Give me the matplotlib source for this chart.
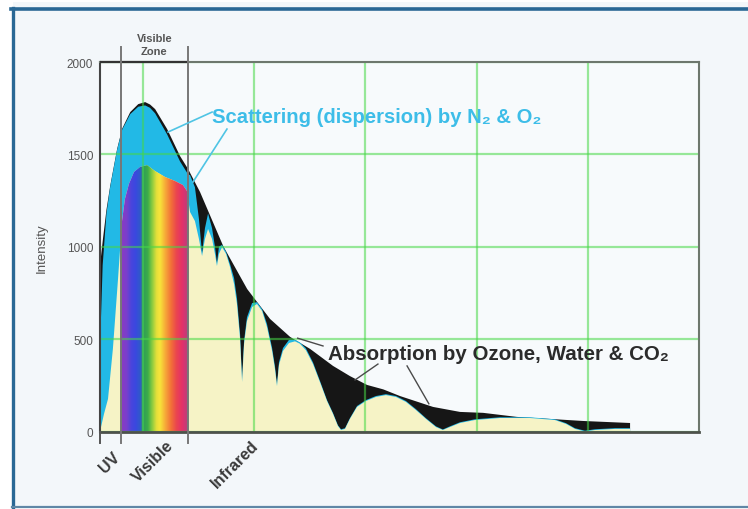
import numpy as np
import matplotlib
matplotlib.use("Agg")
import matplotlib.pyplot as plt
from matplotlib.colors import LinearSegmentedColormap
from matplotlib.patches import Polygon, Rectangle
from matplotlib.lines import Line2D

# ---------------- data ----------------
# Solar spectrum at the top of the atmosphere (wavelength nm, intensity)
toa_nm = [306, 320, 335, 352, 383, 406, 442, 478, 509, 531, 554, 608, 666, 702, 756,
          860, 968, 1071, 1161, 1251, 1354, 1430, 1507, 1580, 1655, 1804, 1925,
          2029, 2181, 2330, 2478, 2690]
toa = [900, 1050, 1200, 1330, 1529, 1640, 1729, 1772, 1783, 1770, 1745, 1637, 1491,
       1421, 1296, 1004, 771, 609, 512, 447, 355, 300, 252, 228, 192, 133, 106, 101,
       79, 68, 57, 46]

# Spectrum left after molecular absorption (before scattering losses)
absorbed_nm = [306, 318, 335, 352, 383, 406, 442, 478, 509, 531, 554, 608, 666, 702,
               711, 733, 751, 765, 778, 792, 810, 823, 832, 841, 855, 873, 891, 909,
               922, 936, 945, 954, 967, 990, 1012, 1035, 1057, 1080, 1093, 1102,
               1111, 1129, 1156, 1183, 1205, 1232, 1264, 1295, 1327, 1354, 1376,
               1390, 1408, 1430, 1462, 1502, 1547, 1592, 1637, 1682, 1727, 1772,
               1817, 1848, 1880, 1925, 1992, 2105, 2240, 2352, 2402, 2442, 2487,
               2532, 2622, 2690]
absorbed = [450, 900, 1180, 1325, 1525, 1635, 1718, 1758, 1765, 1752, 1722, 1608,
            1462, 1392, 1388, 1322, 1150, 965, 1100, 1180, 1100, 1000, 912, 1000,
            1010, 972, 905, 830, 720, 525, 282, 492, 618, 695, 700, 662, 582, 452,
            352, 256, 375, 452, 496, 496, 482, 450, 374, 275, 170, 100, 34, 12, 18,
            72, 138, 170, 192, 202, 192, 165, 121, 72, 28, 11, 28, 50, 66, 77, 77,
            66, 45, 18, 4, 12, 18, 18]

# Spectrum reaching the surface
surface_nm = [306, 324, 342, 364, 387, 405, 418, 436, 459, 486, 518, 553, 598, 643,
              679, 697, 711, 733, 751, 765, 778, 792, 810, 823, 832, 841, 855, 873,
              891, 909, 922, 936, 945, 954, 967, 990, 1012, 1035, 1057, 1080, 1093,
              1102, 1111, 1129, 1156, 1183, 1205, 1232, 1264, 1295, 1327, 1354, 1376,
              1390, 1408, 1430, 1462, 1502, 1547, 1592, 1637, 1682, 1727, 1772, 1817,
              1848, 1880, 1925, 1992, 2105, 2240, 2352, 2402, 2442, 2487, 2532, 2622,
              2690]
surface = [0, 95, 176, 447, 825, 1139, 1258, 1340, 1405, 1432, 1442, 1410, 1378, 1356,
           1334, 1302, 1188, 1139, 1042, 950, 1042, 1096, 1042, 961, 896, 961, 998,
           961, 890, 798, 690, 501, 268, 474, 598, 674, 690, 652, 566, 436, 338, 246,
           360, 436, 479, 488, 475, 440, 365, 268, 165, 95, 30, 8, 14, 68, 133, 165,
           187, 197, 187, 160, 116, 68, 24, 8, 24, 46, 62, 73, 73, 62, 41, 14, 0, 8,
           14, 14]

# Colours of the visible band
rainbow_nm = [400, 425, 445, 465, 486, 500, 520, 540, 560, 575, 600, 625, 650, 675, 700]
rainbow_colors = ['#8a3cc0', '#7a3fcc', '#4a45dc', '#3a48e0', '#2f5ac8', '#2f9a5a',
                  '#3cae48', '#8ccc40', '#e6e03a', '#f7e43a', '#f6a838', '#f27038',
                  '#ea4450', '#e4306a', '#b8407c']

visible_band = [400, 700]
band_labels = ['UV', 'Visible', 'Infrared']
band_label_nm = [360, 600, 982]
y_ticks = [0, 500, 1000, 1500, 2000]
grid_nm = [500, 1000, 1500, 2000, 2500]
x_range = [306, 3000]

# ---------------- figure ----------------
W, H = 748, 510
fig = plt.figure(figsize=(W / 100, H / 100), dpi=100, facecolor='white')

# light panel with a blue frame
fig.add_artist(Rectangle((13 / W, 2 / H), 1.0, 505 / H, transform=fig.transFigure,
                         facecolor='#f3f7fa', edgecolor='none', zorder=0))
fig.add_artist(Line2D([11 / W, 1.0], [1 - 9.5 / H] * 2, transform=fig.transFigure,
                      color='#2a6895', lw=2.6, zorder=1))
fig.add_artist(Line2D([12.5 / W] * 2, [1 - 9 / H, 1 - 508.5 / H], transform=fig.transFigure,
                      color='#2a6895', lw=2.4, zorder=1))
fig.add_artist(Line2D([12 / W, 1.0], [1 - 508 / H] * 2, transform=fig.transFigure,
                      color='#5f87a6', lw=1.6, zorder=1))

ax = fig.add_axes([100 / W, (H - 432.5) / H, 599 / W, 369.5 / H])
ax.set_facecolor('#f7fafc')

font = ['Liberation Sans', 'DejaVu Sans']


def closed(nm, val):
    xs = [nm[0]] + list(nm) + [nm[-1]]
    ys = [0] + list(val) + [0]
    return np.column_stack([xs, ys])


# layered spectra
ax.add_patch(Polygon(closed(toa_nm, toa), closed=True, facecolor='#161616',
                     edgecolor='none', zorder=1))
ax.add_patch(Polygon(closed(absorbed_nm, absorbed), closed=True, facecolor='#22b9e6',
                     edgecolor='none', zorder=1.1))
surf_poly = Polygon(closed(surface_nm, surface), closed=True, facecolor='#f6f3c6',
                    edgecolor='none', zorder=1.2)
ax.add_patch(surf_poly)

# rainbow inside the visible band, clipped to the surface spectrum
pos = [(n - rainbow_nm[0]) / (rainbow_nm[-1] - rainbow_nm[0]) for n in rainbow_nm]
cmap = LinearSegmentedColormap.from_list('spectrum', list(zip(pos, rainbow_colors)))
grad = np.linspace(0, 1, 400).reshape(1, -1)
im = ax.imshow(grad, cmap=cmap, aspect='auto', interpolation='bilinear',
               extent=[visible_band[0], visible_band[1], 0, 2000], zorder=1.3)
im.set_clip_path(surf_poly)
ax.set_xlim(*x_range)
ax.set_ylim(0, 2000)

# grid
ax.set_xticks(grid_nm)
ax.set_xticklabels([])
ax.set_yticks(y_ticks)
ax.set_yticklabels([str(v) for v in y_ticks], fontsize=8.5, color='#555555',
                   family=font)
ax.tick_params(length=0, pad=5)
ax.set_axisbelow(False)
ax.grid(True, color='#46d846', alpha=0.55, lw=1.6)

for side, col, lw in [('left', '#444444', 1.5), ('bottom', '#4d524b', 2.0),
                      ('top', '#6d776d', 1.5), ('right', '#6d776d', 1.5)]:
    ax.spines[side].set_color(col)
    ax.spines[side].set_linewidth(lw)
    ax.spines[side].set_zorder(4)

ax.yaxis.set_label_coords(-0.088, 0.521)
ax.set_ylabel('Intensity', fontsize=9.5, color='#555555', family=font)

# visible zone markers
ax.plot([x_range[0], visible_band[1]], [2000, 2000], color='#333333', lw=1.6,
        clip_on=False, zorder=4.5, solid_capstyle='butt')
for nm in visible_band:
    ax.plot([nm, nm], [-62, 2080], color='#777777', lw=1.4, clip_on=False, zorder=5)
ax.plot([x_range[0], x_range[0]], [0, -62], color='#555555', lw=1.4, clip_on=False, zorder=5)
ax.text(sum(visible_band) / 2, 2095, 'Visible\nZone', ha='center', va='center',
        fontsize=8, fontweight='bold', color='#555555', family=font,
        linespacing=1.3, clip_on=False)

for lab, nm in zip(band_labels, band_label_nm):
    ax.text(nm, -30 if lab != 'UV' else -95, lab, rotation=45, rotation_mode='anchor',
            ha='right', va='top', fontsize=11.5, fontweight='bold', color='#3a3a3a',
            family=font, clip_on=False)

# annotations
scat_color = '#3dbde8'
ax.text(810, 1675, 'Scattering (dispersion) by N\u2082 & O\u2082', fontsize=14.6,
        fontweight='bold', color=scat_color, family=font, ha='left', va='baseline',
        zorder=6)
ax.plot([810, 612], [1729, 1621], color='#4fc4e4', lw=1.2, zorder=6)
ax.plot([877, 724], [1637, 1350], color='#4fc4e4', lw=1.2, zorder=6)

ax.text(1331, 392, 'Absorption by Ozone, Water & CO\u2082', fontsize=14.8,
        fontweight='bold', color='#2b2b2b', family=font, ha='left', va='baseline',
        zorder=6)
for (x0, y0), (x1, y1) in [((1309, 463), (1195, 505)),
                           ((1556, 365), (1453, 279)),
                           ((1687, 355), (1785, 150))]:
    ax.plot([x0, x1], [y0, y1], color='#4a4a4a', lw=1.0, zorder=6)

fig.savefig('out.png', dpi=100)
